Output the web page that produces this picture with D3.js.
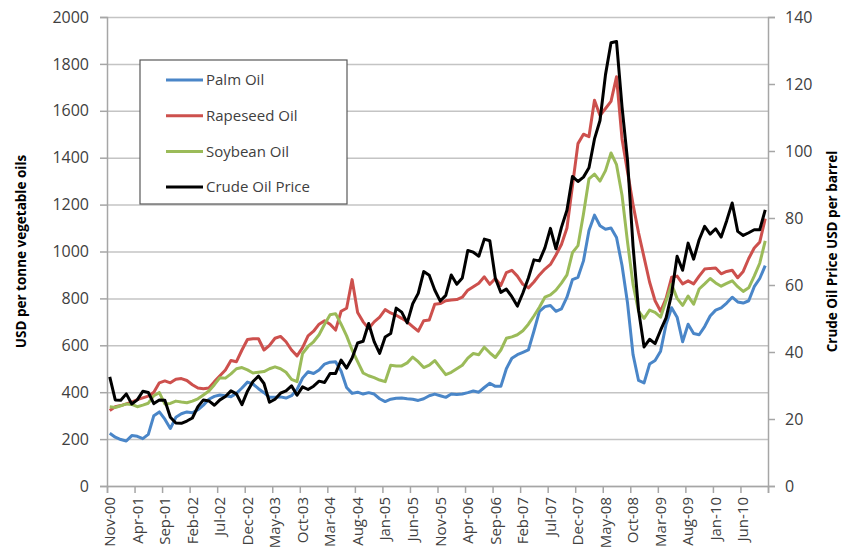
<!DOCTYPE html>
<html>
<head>
<meta charset="utf-8">
<script src="https://cdn.jsdelivr.net/npm/d3@7"></script>
<style>
  body { margin: 0; background: #fff; }
  svg { font-family: "Open Sans", sans-serif; }
</style>
</head>
<body>
<svg id="chart" width="844" height="550"></svg>
<script>
// monthly, Nov-00 .. Oct-10 (120 months)
const months = d3.timeMonth.range(new Date(2000, 10, 1), new Date(2010, 10, 1)).map(d3.timeFormat("%b-%y"));

const palmOil = [225,208,198,192,215,212,202,220,300,316,285,245,
  293,308,316,312,325,345,370,382,388,385,381,395,
  418,443,435,415,398,378,378,380,375,385,412,460,
  487,480,495,520,528,530,490,420,395,400,392,398,
  392,372,360,370,374,375,372,370,365,372,385,392,
  385,378,392,390,392,398,405,400,420,438,425,425,
  500,545,560,570,580,660,745,765,770,745,755,805,
  880,890,960,1090,1155,1110,1095,1100,1060,940,780,560,
  450,440,520,535,575,690,760,720,615,690,650,645,
  680,725,750,760,780,805,785,780,790,850,885,940];

const rapeseedOil = [322,338,343,350,358,368,376,383,400,440,448,440,
  455,458,450,432,418,415,418,445,470,495,535,530,
  580,625,628,628,580,600,630,638,615,580,555,590,
  640,660,690,705,690,665,745,758,880,740,700,672,
  700,720,752,738,728,715,700,680,660,705,708,775,
  778,790,793,795,805,835,850,865,892,860,885,855,
  910,920,895,860,845,870,900,925,945,985,1030,1100,
  1280,1460,1500,1490,1645,1580,1610,1640,1745,1480,1340,1200,
  1080,975,870,790,745,800,890,895,862,875,862,895,
  925,928,930,905,915,920,888,915,970,1015,1040,1140];

const soybeanOil = [338,335,342,350,348,338,345,353,385,398,350,352,
  362,358,355,362,372,388,405,432,462,460,478,500,
  505,495,482,485,488,500,508,500,485,455,445,565,
  595,615,645,690,730,735,690,640,580,530,482,470,
  462,452,445,515,512,512,525,550,530,505,515,535,
  505,475,485,500,515,545,565,560,592,568,548,580,
  630,636,645,662,690,725,762,805,815,835,865,900,
  995,1025,1160,1310,1330,1300,1345,1420,1370,1240,1040,860,
  745,715,750,740,720,790,860,800,770,810,775,840,
  862,885,866,852,864,875,850,830,845,895,950,1045];

const crudeOil = [32.6,25.7,
  25.6,27.5,24.5,25.7,28.3,27.9,24.6,25.7,25.6,20.5,18.8,18.7,
  19.4,20.3,23.7,25.7,25.4,24.1,25.7,26.7,28.4,27.5,24.3,28.3,
  31.2,32.8,30.6,25.0,25.9,27.7,28.4,29.9,27.1,29.6,28.8,29.8,
  31.3,30.9,33.6,33.6,37.6,35.2,38.2,42.7,43.2,48.5,43.1,39.6,
  44.5,45.5,53.1,51.9,48.7,54.4,57.5,64.0,62.9,58.5,55.2,56.9,
  63.0,60.2,62.1,70.3,69.8,68.6,73.7,73.2,62.0,57.8,58.8,56.5,
  53.7,57.6,62.1,67.5,67.2,71.1,76.9,70.8,77.2,82.3,92.4,90.9,
  92.2,95.0,103.6,109.1,122.8,132.3,132.7,113.2,97.2,71.6,52.5,41.5,
  43.8,42.5,46.5,50.2,57.3,68.6,64.4,72.5,67.7,73.5,77.5,75.2,
  76.8,74.3,79.2,84.5,76.0,74.8,75.6,76.5,76.5,82.4];

const leftTicks = d3.range(0, 2001, 200);
const rightTicks = d3.range(0, 141, 20);

const series = [
  {name: "Palm Oil", values: palmOil, color: "#4a86c8", axis: "left"},
  {name: "Rapeseed Oil", values: rapeseedOil, color: "#cd504d", axis: "left"},
  {name: "Soybean Oil", values: soybeanOil, color: "#9bbb59", axis: "left"},
  {name: "Crude Oil Price", values: crudeOil, color: "#000000", axis: "right"}
];

const svg = d3.select("#chart");
const margin = {left: 107, right: 76, top: 17, bottom: 64};
const width = 844 - margin.left - margin.right;
const height = 550 - margin.top - margin.bottom;

const g = svg.append("g").attr("transform", `translate(${margin.left},${margin.top})`);

const x = d3.scaleBand().domain(months).range([0, width]);
const xEdge = d3.scaleLinear().domain([0, months.length]).range([0, width]);
const yL = d3.scaleLinear().domain([0, 2000]).range([height, 0]);
const yR = d3.scaleLinear().domain([0, 140]).range([height, 0]);

// gridlines
g.append("g")
  .call(d3.axisLeft(yL).tickValues(leftTicks).tickSize(-width).tickFormat(""))
  .call(a => a.select(".domain").remove())
  .call(a => a.selectAll("line").attr("stroke", "#c4c4c4").attr("stroke-width", 1.5));

// left axis
const axisColor = "#a6a6a6";
g.append("g")
  .call(d3.axisLeft(yL).tickValues(leftTicks).tickSize(7).tickPadding(11).tickFormat(d3.format("d")))
  .call(a => a.select(".domain").attr("stroke", axisColor).attr("stroke-width", 1.5))
  .call(a => a.selectAll("line").attr("stroke", axisColor).attr("stroke-width", 1.5))
  .call(a => a.selectAll("text").attr("font-size", 16).attr("fill", "#404040").attr("font-family", "Open Sans"));

// right axis
g.append("g")
  .attr("transform", `translate(${width},0)`)
  .call(d3.axisRight(yR).tickValues(rightTicks).tickSize(7).tickPadding(10))
  .call(a => a.select(".domain").attr("stroke", axisColor).attr("stroke-width", 1.5))
  .call(a => a.selectAll("line").attr("stroke", axisColor).attr("stroke-width", 1.5))
  .call(a => a.selectAll("text").attr("font-size", 16).attr("fill", "#404040").attr("font-family", "Open Sans"));

// bottom axis: tick marks on month boundaries
g.append("g")
  .attr("transform", `translate(0,${height})`)
  .call(d3.axisBottom(xEdge).tickValues(d3.range(0, months.length + 1, 5)).tickSize(7).tickFormat(""))
  .call(a => a.select(".domain").attr("stroke", axisColor).attr("stroke-width", 1.5))
  .call(a => a.selectAll("line").attr("stroke", axisColor).attr("stroke-width", 1.5));

// bottom labels, centred in their month
g.append("g")
  .attr("transform", `translate(0,${height})`)
  .call(d3.axisBottom(x).tickValues(months.filter((m, i) => i % 5 === 0)).tickSize(0))
  .call(a => a.select(".domain").remove())
  .call(a => a.selectAll("text")
    .attr("font-size", 15).attr("fill", "#404040").attr("font-family", "Open Sans")
    .attr("text-anchor", "end")
    .attr("transform", "rotate(-90)")
    .attr("x", -11).attr("y", 0).attr("dy", "0.35em"));

// lines
series.forEach(s => {
  const yScale = s.axis === "left" ? yL : yR;
  const line = d3.line()
    .x((d, i) => x(months[i]) + x.bandwidth() / 2)
    .y(d => yScale(d));
  g.append("path")
    .datum(s.values)
    .attr("fill", "none")
    .attr("stroke", s.color)
    .attr("stroke-width", 3)
    .attr("stroke-linejoin", "round")
    .attr("d", line);
});

// axis titles
svg.append("text")
  .attr("transform", `translate(21,${margin.top + height / 2}) rotate(-90)`)
  .attr("text-anchor", "middle").attr("dy", "0.35em")
  .attr("font-size", 13.5).attr("font-weight", "bold")
  .text("USD per tonne vegetable oils");

svg.append("text")
  .attr("transform", `translate(832,${margin.top + height / 2}) rotate(-90)`)
  .attr("text-anchor", "middle").attr("dy", "0.35em")
  .attr("font-size", 13.5).attr("font-weight", "bold")
  .text("Crude Oil Price USD per barrel");

// legend
const legend = svg.append("g").attr("transform", "translate(140,60)");
legend.append("rect")
  .attr("width", 207).attr("height", 144)
  .attr("fill", "#fff").attr("stroke", "#595959").attr("stroke-width", 1.2);
series.forEach((s, i) => {
  const row = legend.append("g").attr("transform", `translate(0,${20 + i * 35.7})`);
  row.append("line").attr("x1", 26).attr("x2", 63)
    .attr("stroke", s.color).attr("stroke-width", 3);
  row.append("text").attr("x", 66).attr("dy", "0.35em")
    .attr("font-size", 15).attr("fill", "#404040")
    .text(s.name);
});
</script>
</body>
</html>
